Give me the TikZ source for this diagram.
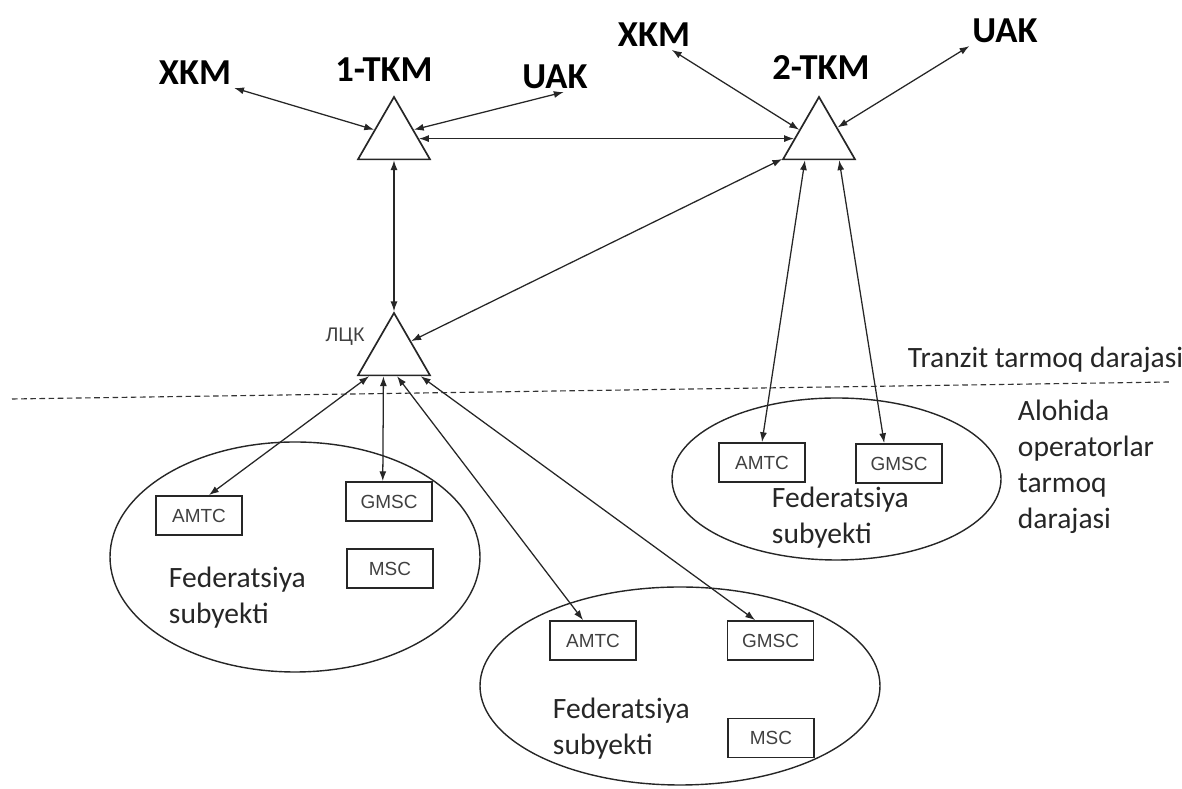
\documentclass[tikz,border=0pt]{standalone}
\usepackage{fontspec}
\setmainfont{Carlito}
\newfontfamily\arialfont{Liberation Sans}
\usetikzlibrary{shapes.geometric, arrows.meta}

\begin{document}
\begin{tikzpicture}[
tkm/.style={regular polygon, regular polygon sides=3, draw=black!85, line width=1.2pt, minimum size=2.08cm, inner sep=0pt},
ubox/.style={rectangle, draw=black!85, line width=1.1pt, minimum width=2.15cm, minimum height=0.98cm, inner sep=0pt, font=\arialfont\fontsize{13.5}{16}\selectfont, text=black!75},
bigname/.style={font=\fontsize{26}{30}\selectfont\bfseries, inner sep=2pt},
lvltext/.style={font=\fontsize{21}{25.5}\selectfont, align=left, anchor=west, text=black!85},
link/.style={draw=black!85, line width=0.9pt, <->, >={Latex[length=7pt, width=5pt]}},]

	\useasboundingbox (0, 0) rectangle (29.55, 19.725);

	% subject areas
	\draw[black!85, line width=1pt] (7.375, 5.8) ellipse (4.625cm and 2.875cm);
	\draw[black!85, line width=1pt] (20.9125, 7.75) ellipse (4.1125cm and 2.025cm);
	\draw[black!85, line width=1pt] (17.0, 2.575) ellipse (5.0cm and 2.475cm);

	\draw[black!80, dash pattern=on 4pt off 2.5pt, line width=0.8pt] (0.3, 9.75) -- (29.25, 10.175);

	\node (t1) [tkm] at (9.85, 16.26) {};
	\node (t2) [tkm] at (20.475, 16.26) {};
	\node (lck) [tkm] at (9.85, 10.86) {};

	\node (tkm1) [bigname] at (9.6, 17.975) {1-TKM};
	\node (xkmA) [bigname] at (4.875, 17.9) {XKM};
	\node (uakA) [bigname] at (13.875, 17.8) {UAK};
	\node (tkm2) [bigname] at (20.525, 18.025) {2-TKM};
	\node (xkmB) [bigname] at (16.35, 18.85) {XKM};
	\node (uakB) [bigname] at (25.125, 18.95) {UAK};
	\node (lckname) [font=\arialfont\fontsize{14}{16}\selectfont, text=black!75] at (8.625, 11.3) {ЛЦК};

	\node (amtcA) [ubox] at (4.975, 6.8375) {AMTC};
	\node (gmscA) [ubox] at (9.725, 7.1875) {GMSC};
	\node (mscA) [ubox] at (9.75, 5.5125) {MSC};
	\node (amtcR) [ubox] at (19.05, 8.1625) {AMTC};
	\node (gmscR) [ubox] at (22.475, 8.1375) {GMSC};
	\node (amtcB) [ubox] at (14.825, 3.7125) {AMTC};
	\node (gmscB) [ubox] at (19.2625, 3.7125) {GMSC};
	\node (mscB) [ubox] at (19.275, 1.275) {MSC};

	\node (fedA) [lvltext] at (4.1, 4.79) {Federatsiya\\subyekti};
	\node (fedR) [lvltext] at (19.175, 6.79) {Federatsiya\\subyekti};
	\node (fedB) [lvltext] at (13.7, 1.51) {Federatsiya\\subyekti};
	\node (tranzit) [lvltext] at (22.575, 10.725) {Tranzit tarmoq darajasi};
	\node (alohida) [lvltext] at (25.325, 8.06) {Alohida\\operatorlar\\tarmoq\\darajasi};

	\draw[link] (xkmA.south east) -- (t1.156);
	\draw[link] (uakA.-60) -- (t1.24);
	\draw[link] (t1) -- (t2);
	\draw[link] (xkmB.-40) -- (t2.156);
	\draw[link] (uakB.south west) -- (t2.31);
	\draw[link] (t1) -- (lck);
	\draw[link] (t2.209) -- (lck.38);
	\draw[link] (t2.237) -- (amtcR.north);
	\draw[link] (t2.-47) -- (gmscR.126);
	\draw[link] (lck.221) -- (amtcA.64);
	\draw[link] (lck.244) -- (gmscA.107);
	\draw[link] (lck.-82) -- (amtcB.116);
	\draw[link] (lck.-39) -- (gmscB.127);

\end{tikzpicture}
\end{document}
